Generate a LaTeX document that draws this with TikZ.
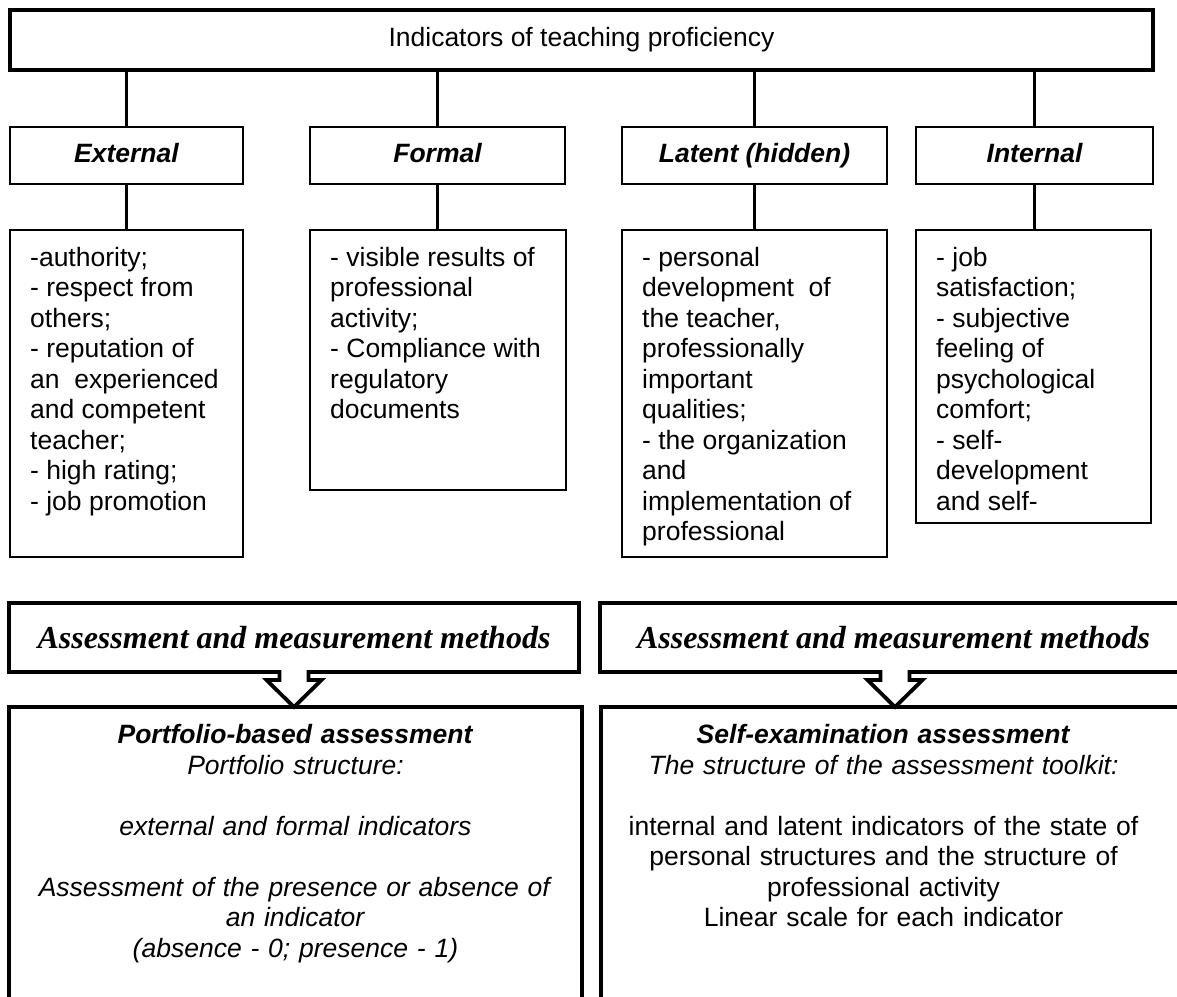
\documentclass[tikz,border=0pt]{standalone}
\usepackage{fontspec}
\setmainfont{Liberation Sans}
\newfontfamily\serifti{Liberation Serif}
\usetikzlibrary{calc}
\begin{document}
\begin{tikzpicture}[x=1pt,y=-1pt,
  f/.style={font=\fontsize{26.5}{30.5}\selectfont},
  box/.style={draw, anchor=north west, inner sep=0pt, outer sep=0pt},
  topbox/.style={box, line width=3.3pt, minimum width=1143pt, minimum height=60pt, f, text height=19pt, text depth=5.5pt},
  catbox/.style={box, line width=2pt, minimum height=57pt, font=\fontsize{26.5}{30.5}\selectfont\bfseries\itshape, text height=19pt, text depth=5.5pt},
  listbox/.style={box, line width=2pt},
  listtxt/.style={anchor=north west, inner sep=0pt, align=left, f},
  link/.style={line width=3.5pt},
  methbox/.style={box, line width=3.8pt, minimum height=69pt, font=\serifti\bfseries\itshape\fontsize{32}{36}\selectfont},
  bigbox/.style={box, line width=3.5pt, minimum height=330pt},
  bigtxt/.style={anchor=north, inner sep=0pt, align=center, text width=570pt, f},
  blockarrow/.style={draw, fill=white, line width=3.8pt, line join=miter}
]
\useasboundingbox (0,0) rectangle (1177,996);
\clip (0,0) rectangle (1177,996);

% top
\node[topbox] (top) at (10,10) {Indicators of teaching proficiency};

% categories
\node[catbox, minimum width=233pt] (ext) at (10,127) {External};
\node[catbox, minimum width=255pt] (frm) at (310,127) {Formal};
\node[catbox, minimum width=265pt] (lat) at (622,127) {Latent (hidden)};
\node[catbox, minimum width=237pt] (int) at (916,127) {Internal};

\foreach \n in {ext,frm,lat,int}
  \draw[link] (top.south -| \n.north) -- (\n.north);

% lists
\node[listbox, minimum width=233pt, minimum height=326.7pt] (extl) at (10,230) {};
\node[listbox, minimum width=256pt, minimum height=260pt] (frml) at (310,230) {};
\node[listbox, minimum width=265pt, minimum height=326.7pt] (latl) at (622,230) {};
\node[listbox, minimum width=235pt, minimum height=293pt] (intl) at (916,230) {};

\draw[link] (ext.south) -- (ext.south |- extl.north);
\draw[link] (frm.south) -- (frm.south |- frml.north);
\draw[link] (lat.south) -- (lat.south |- latl.north);
\draw[link] (int.south) -- (int.south |- intl.north);

\node[listtxt] (extt) at ([shift={(20,16)}]extl.north west)
 {\rule{0pt}{20pt}-authority;\\- respect from\\others;\\- reputation of\\an\ \ experienced\\and competent\\teacher;\\- high rating;\\- job promotion};
\node[listtxt] (frmt) at ([shift={(20,16)}]frml.north west)
 {\rule{0pt}{20pt}- visible results of\\professional\\activity;\\- Compliance with\\regulatory\\documents};
\node[listtxt] (latt) at ([shift={(20,16)}]latl.north west)
 {\rule{0pt}{20pt}- personal\\development\ \ of\\the teacher,\\professionally\\important\\qualities;\\- the organization\\and\\implementation of\\professional};
\node[listtxt] (intt) at ([shift={(20,16)}]intl.north west)
 {\rule{0pt}{20pt}- job\\satisfaction;\\- subjective\\feeling of\\psychological\\comfort;\\- self-\\development\\and self-};

% methods boxes
\node[methbox, minimum width=570pt] (ma1) at (9,603) {Assessment and measurement methods};
\node[methbox, minimum width=587pt] (ma2) at (600,603) {Assessment and measurement methods};

% bottom boxes
\node[bigbox, minimum width=573pt] (pf) at (9,707) {};
\node[bigbox, minimum width=600pt] (se) at (601,707) {};

% block arrows
\draw[blockarrow] ([shift={(-14.5,-1.9)}]ma1.south) -- ([shift={(-14.5,8)}]ma1.south)
  -- ([shift={(-27.5,8)}]ma1.south) -- (pf.north -| ma1.south) -- ([shift={(27.5,8)}]ma1.south)
  -- ([shift={(14.5,8)}]ma1.south) -- ([shift={(14.5,-1.9)}]ma1.south);
\draw[blockarrow] ([shift={(-13,-1.9)}]ma2.south) -- ([shift={(-13,8)}]ma2.south)
  -- ([shift={(-26,8)}]ma2.south) -- ([xshift=1.5pt]pf.north -| ma2.south) -- ([shift={(29,8)}]ma2.south)
  -- ([shift={(16,8)}]ma2.south) -- ([shift={(16,-1.9)}]ma2.south);

\node[bigtxt] (pft) at ([yshift=-16.5pt]pf.north)
 {\rule{0pt}{20pt}\textbf{\textit{Portfolio-based assessment}}\\
  \textit{Portfolio structure:}\\[30.5pt]
  \textit{external and formal indicators}\\[30.5pt]
  \textit{Assessment of the presence or absence of}\\
  \textit{an indicator}\\
  \textit{(absence - 0; presence - 1)}};
\node[bigtxt] (set) at ([shift={(282.5,16.5)}]se.north west)
 {\rule{0pt}{20pt}\textbf{\textit{Self-examination assessment}}\\
  \textit{The structure of the assessment toolkit:}\\[30.5pt]
  internal and latent indicators of the state of\\
  personal structures and the structure of\\
  professional activity\\
  Linear scale for each indicator};
\end{tikzpicture}
\end{document}
